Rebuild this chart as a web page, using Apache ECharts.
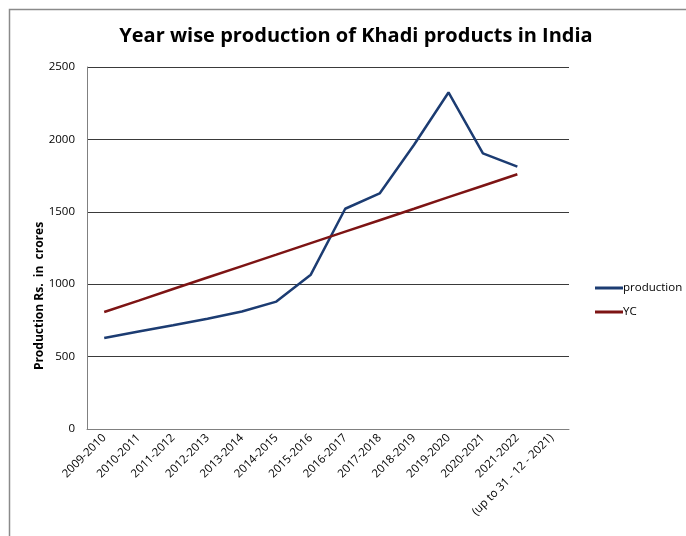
<!DOCTYPE html>
<html>
<head>
<meta charset="utf-8">
<script src="https://cdn.jsdelivr.net/npm/echarts@6/dist/echarts.min.js"></script>
<style>
  html, body { margin: 0; padding: 0; background: #fff; }
  #chart { width: 686px; height: 536px; }
</style>
</head>
<body>
<div id="chart"></div>
<script>
// Financial years (the last entry is the note for the partial year)
const years = [
  '2009-2010', '2010-2011', '2011-2012', '2012-2013', '2013-2014',
  '2014-2015', '2015-2016', '2016-2017', '2017-2018', '2018-2019',
  '2019-2020', '2020-2021', '2021-2022', '(up to 31 - 12 - 2021)'
];

// Khadi production, Rs. in crores
const production = [629, 673, 717, 762, 811, 880, 1066, 1521, 1627, 1963, 2324, 1904, 1812];

// Trend values (YC)
const yc = [808, 887, 967, 1046, 1125, 1204, 1284, 1363, 1442, 1521, 1601, 1680, 1759];

const yTicks = [0, 500, 1000, 1500, 2000, 2500];

const font = '"Open Sans", "Noto Sans", sans-serif';

const chart = echarts.init(document.getElementById('chart'), null, { renderer: 'canvas' });

chart.setOption({
  animation: false,
  backgroundColor: '#fff',
  title: {
    text: 'Year wise production of Khadi products in India',
    left: 351,
    top: 21,
    textAlign: 'center',
    textStyle: { fontFamily: font, fontSize: 20, fontWeight: 'bold', color: '#000' }
  },
  graphic: [
    {
      type: 'rect',
      shape: { x: 9.5, y: 9.5, width: 700, height: 560 },
      style: { fill: 'none', stroke: '#8a8a8a', lineWidth: 1.5 },
      silent: true
    },
    {
      type: 'text',
      x: 40,
      y: 296,
      rotation: Math.PI / 2,
      style: {
        text: 'Production Rs.  in  crores',
        fontFamily: font,
        fontSize: 12,
        fontWeight: 'bold',
        fill: '#000',
        align: 'center',
        verticalAlign: 'middle'
      }
    }
  ],
  legend: {
    orient: 'vertical',
    left: 590,
    top: 277,
    itemWidth: 28,
    itemHeight: 3,
    itemGap: 12,
    icon: 'rect',
    textStyle: { fontFamily: font, fontSize: 11.5, color: '#000', padding: [0, 0, 0, -5] },
    data: ['production', 'YC']
  },
  grid: { left: 87, right: 117, top: 67, bottom: 107, containLabel: false },
  xAxis: {
    type: 'category',
    data: years,
    boundaryGap: true,
    axisLine: { lineStyle: { color: '#808080', width: 1 } },
    axisTick: { show: false },
    axisLabel: {
      interval: 0,
      rotate: 45,
      margin: 7,
      fontFamily: font,
      fontSize: 11.5,
      color: '#000'
    },
    splitLine: { show: false }
  },
  yAxis: {
    type: 'value',
    min: yTicks[0],
    max: yTicks[yTicks.length - 1],
    interval: 500,
    axisLine: { show: true, lineStyle: { color: '#808080', width: 1 } },
    axisTick: { show: false },
    axisLabel: {
      margin: 12,
      fontFamily: font,
      fontSize: 11.5,
      color: '#000',
      formatter: (v) => String(v)
    },
    splitLine: { lineStyle: { color: '#3a3a3a', width: 1 } }
  },
  series: [
    {
      name: 'production',
      type: 'line',
      data: production,
      symbol: 'none',
      lineStyle: { color: '#1c3c72', width: 2.5 },
      itemStyle: { color: '#1c3c72' }
    },
    {
      name: 'YC',
      type: 'line',
      data: yc,
      symbol: 'none',
      lineStyle: { color: '#7d1414', width: 2.5 },
      itemStyle: { color: '#7d1414' }
    }
  ]
});
</script>
</body>
</html>
